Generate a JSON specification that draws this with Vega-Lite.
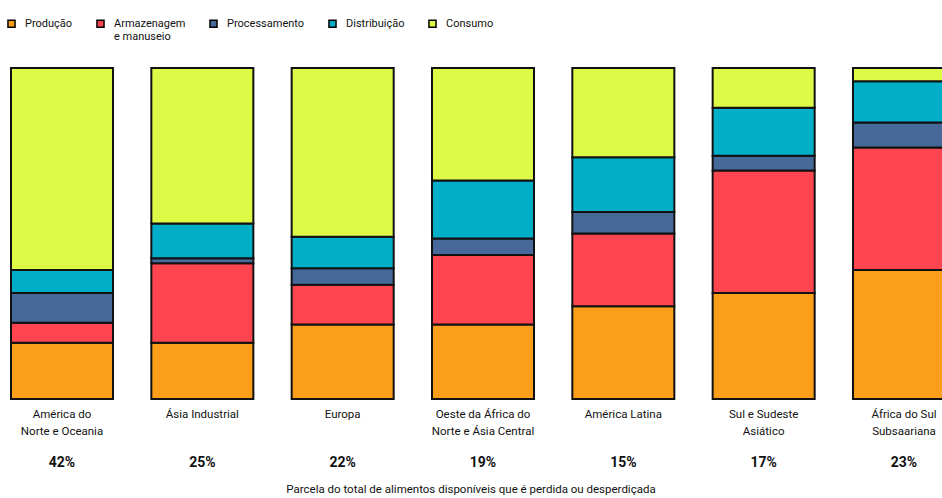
{
  "$schema": "https://vega.github.io/schema/vega-lite/v6.json",
  "width": 942,
  "height": 331,
  "autosize": {"type": "none"},
  "padding": {"left": 0, "top": 68, "right": 0, "bottom": 99},
  "background": "white",
  "config": {"view": {"stroke": null}, "font": "Roboto"},
  "datasets": {
    "etapas": [
      {"regiao": "América do Norte e Oceania", "etapa": "Produção", "valor": 17},
      {"regiao": "América do Norte e Oceania", "etapa": "Armazenagem e manuseio", "valor": 6},
      {"regiao": "América do Norte e Oceania", "etapa": "Processamento", "valor": 9},
      {"regiao": "América do Norte e Oceania", "etapa": "Distribuição", "valor": 7},
      {"regiao": "América do Norte e Oceania", "etapa": "Consumo", "valor": 61},
      {"regiao": "Ásia Industrial", "etapa": "Produção", "valor": 17},
      {"regiao": "Ásia Industrial", "etapa": "Armazenagem e manuseio", "valor": 24},
      {"regiao": "Ásia Industrial", "etapa": "Processamento", "valor": 1.5},
      {"regiao": "Ásia Industrial", "etapa": "Distribuição", "valor": 10.5},
      {"regiao": "Ásia Industrial", "etapa": "Consumo", "valor": 47},
      {"regiao": "Europa", "etapa": "Produção", "valor": 22.5},
      {"regiao": "Europa", "etapa": "Armazenagem e manuseio", "valor": 12},
      {"regiao": "Europa", "etapa": "Processamento", "valor": 5},
      {"regiao": "Europa", "etapa": "Distribuição", "valor": 9.5},
      {"regiao": "Europa", "etapa": "Consumo", "valor": 51},
      {"regiao": "Oeste da África do Norte e Ásia Central", "etapa": "Produção", "valor": 22.5},
      {"regiao": "Oeste da África do Norte e Ásia Central", "etapa": "Armazenagem e manuseio", "valor": 21},
      {"regiao": "Oeste da África do Norte e Ásia Central", "etapa": "Processamento", "valor": 5},
      {"regiao": "Oeste da África do Norte e Ásia Central", "etapa": "Distribuição", "valor": 17.5},
      {"regiao": "Oeste da África do Norte e Ásia Central", "etapa": "Consumo", "valor": 34},
      {"regiao": "América Latina", "etapa": "Produção", "valor": 28},
      {"regiao": "América Latina", "etapa": "Armazenagem e manuseio", "valor": 22},
      {"regiao": "América Latina", "etapa": "Processamento", "valor": 6.5},
      {"regiao": "América Latina", "etapa": "Distribuição", "valor": 16.5},
      {"regiao": "América Latina", "etapa": "Consumo", "valor": 27},
      {"regiao": "Sul e Sudeste Asiático", "etapa": "Produção", "valor": 32},
      {"regiao": "Sul e Sudeste Asiático", "etapa": "Armazenagem e manuseio", "valor": 37},
      {"regiao": "Sul e Sudeste Asiático", "etapa": "Processamento", "valor": 4.5},
      {"regiao": "Sul e Sudeste Asiático", "etapa": "Distribuição", "valor": 14.5},
      {"regiao": "Sul e Sudeste Asiático", "etapa": "Consumo", "valor": 12},
      {"regiao": "África do Sul Subsaariana", "etapa": "Produção", "valor": 39},
      {"regiao": "África do Sul Subsaariana", "etapa": "Armazenagem e manuseio", "valor": 37},
      {"regiao": "África do Sul Subsaariana", "etapa": "Processamento", "valor": 7.5},
      {"regiao": "África do Sul Subsaariana", "etapa": "Distribuição", "valor": 12.5},
      {"regiao": "África do Sul Subsaariana", "etapa": "Consumo", "valor": 4}
    ],
    "perdas": [
      {"regiao": "América do Norte e Oceania", "perda": "42%"},
      {"regiao": "Ásia Industrial", "perda": "25%"},
      {"regiao": "Europa", "perda": "22%"},
      {"regiao": "Oeste da África do Norte e Ásia Central", "perda": "19%"},
      {"regiao": "América Latina", "perda": "15%"},
      {"regiao": "Sul e Sudeste Asiático", "perda": "17%"},
      {"regiao": "África do Sul Subsaariana", "perda": "23%"}
    ]
  },
  "layer": [
    {
      "data": {"name": "etapas"},
      "transform": [
        {"calculate": "indexof(['Produção', 'Armazenagem e manuseio', 'Processamento', 'Distribuição', 'Consumo'], datum.etapa)", "as": "ordem"}
      ],
      "mark": {"type": "bar", "stroke": "#111111", "strokeWidth": 2},
      "encoding": {
        "x": {
          "field": "regiao",
          "type": "nominal",
          "sort": ["América do Norte e Oceania", "Ásia Industrial", "Europa", "Oeste da África do Norte e Ásia Central", "América Latina", "Sul e Sudeste Asiático", "África do Sul Subsaariana"],
          "scale": {"range": [11, 955], "paddingInner": 0.273, "paddingOuter": 0},
          "axis": {
            "title": null,
            "labelAngle": 0,
            "domain": false,
            "ticks": false,
            "labelPadding": 9,
            "labelFontSize": 11.5,
            "labelLineHeight": 17,
            "labelColor": "#111111",
            "labelFont": "Roboto",
            "labelExpr": "datum.label == 'América do Norte e Oceania' ? ['América do', 'Norte e Oceania'] : datum.label == 'Oeste da África do Norte e Ásia Central' ? ['Oeste da África do', 'Norte e Ásia Central'] : datum.label == 'Sul e Sudeste Asiático' ? ['Sul e Sudeste', 'Asiático'] : datum.label == 'África do Sul Subsaariana' ? ['África do Sul', 'Subsaariana'] : datum.label"
          }
        },
        "y": {"field": "valor", "type": "quantitative", "stack": "normalize", "scale": {"domain": [0, 1]}, "axis": null},
        "order": {"field": "ordem", "type": "quantitative", "sort": "ascending"},
        "color": {
          "field": "etapa",
          "type": "nominal",
          "sort": ["Produção", "Armazenagem e manuseio", "Processamento", "Distribuição", "Consumo"],
          "scale": {
            "domain": ["Produção", "Armazenagem e manuseio", "Processamento", "Distribuição", "Consumo"],
            "range": ["#FB9E1A", "#FF4650", "#47699A", "#00AEC8", "#DDFB46"]
          },
          "legend": {
            "title": null,
            "orient": "none",
            "legendX": 6,
            "legendY": -50,
            "direction": "horizontal",
            "columns": 5,
            "columnPadding": 20,
            "symbolType": "square",
            "symbolSize": 50,
            "symbolStrokeColor": "#000000",
            "symbolStrokeWidth": 1.5,
            "labelFontSize": 11,
            "labelOffset": 8,
            "labelColor": "#111111",
            "labelFont": "Roboto",
            "labelBaseline": "middle",
            "labelLineHeight": 15,
            "labelExpr": "datum.label == 'Armazenagem e manuseio' ? ['Armazenagem', 'e manuseio'] : [datum.label, ' ']"
          }
        }
      }
    },
    {
      "data": {"name": "perdas"},
      "mark": {"type": "text", "fontWeight": "bold", "fontSize": 14, "font": "Roboto", "color": "#111111", "baseline": "middle"},
      "encoding": {
        "x": {"field": "regiao", "type": "nominal", "sort": ["América do Norte e Oceania", "Ásia Industrial", "Europa", "Oeste da África do Norte e Ásia Central", "América Latina", "Sul e Sudeste Asiático", "África do Sul Subsaariana"]},
        "y": {"datum": -0.192},
        "text": {"field": "perda"}
      }
    }
  ],
  "title": {
    "text": "Parcela do total de alimentos disponíveis que é perdida ou desperdiçada",
    "orient": "bottom",
    "anchor": "middle",
    "fontSize": 11.5,
    "fontWeight": "normal",
    "font": "Roboto",
    "color": "#111111",
    "offset": 14
  }
}
